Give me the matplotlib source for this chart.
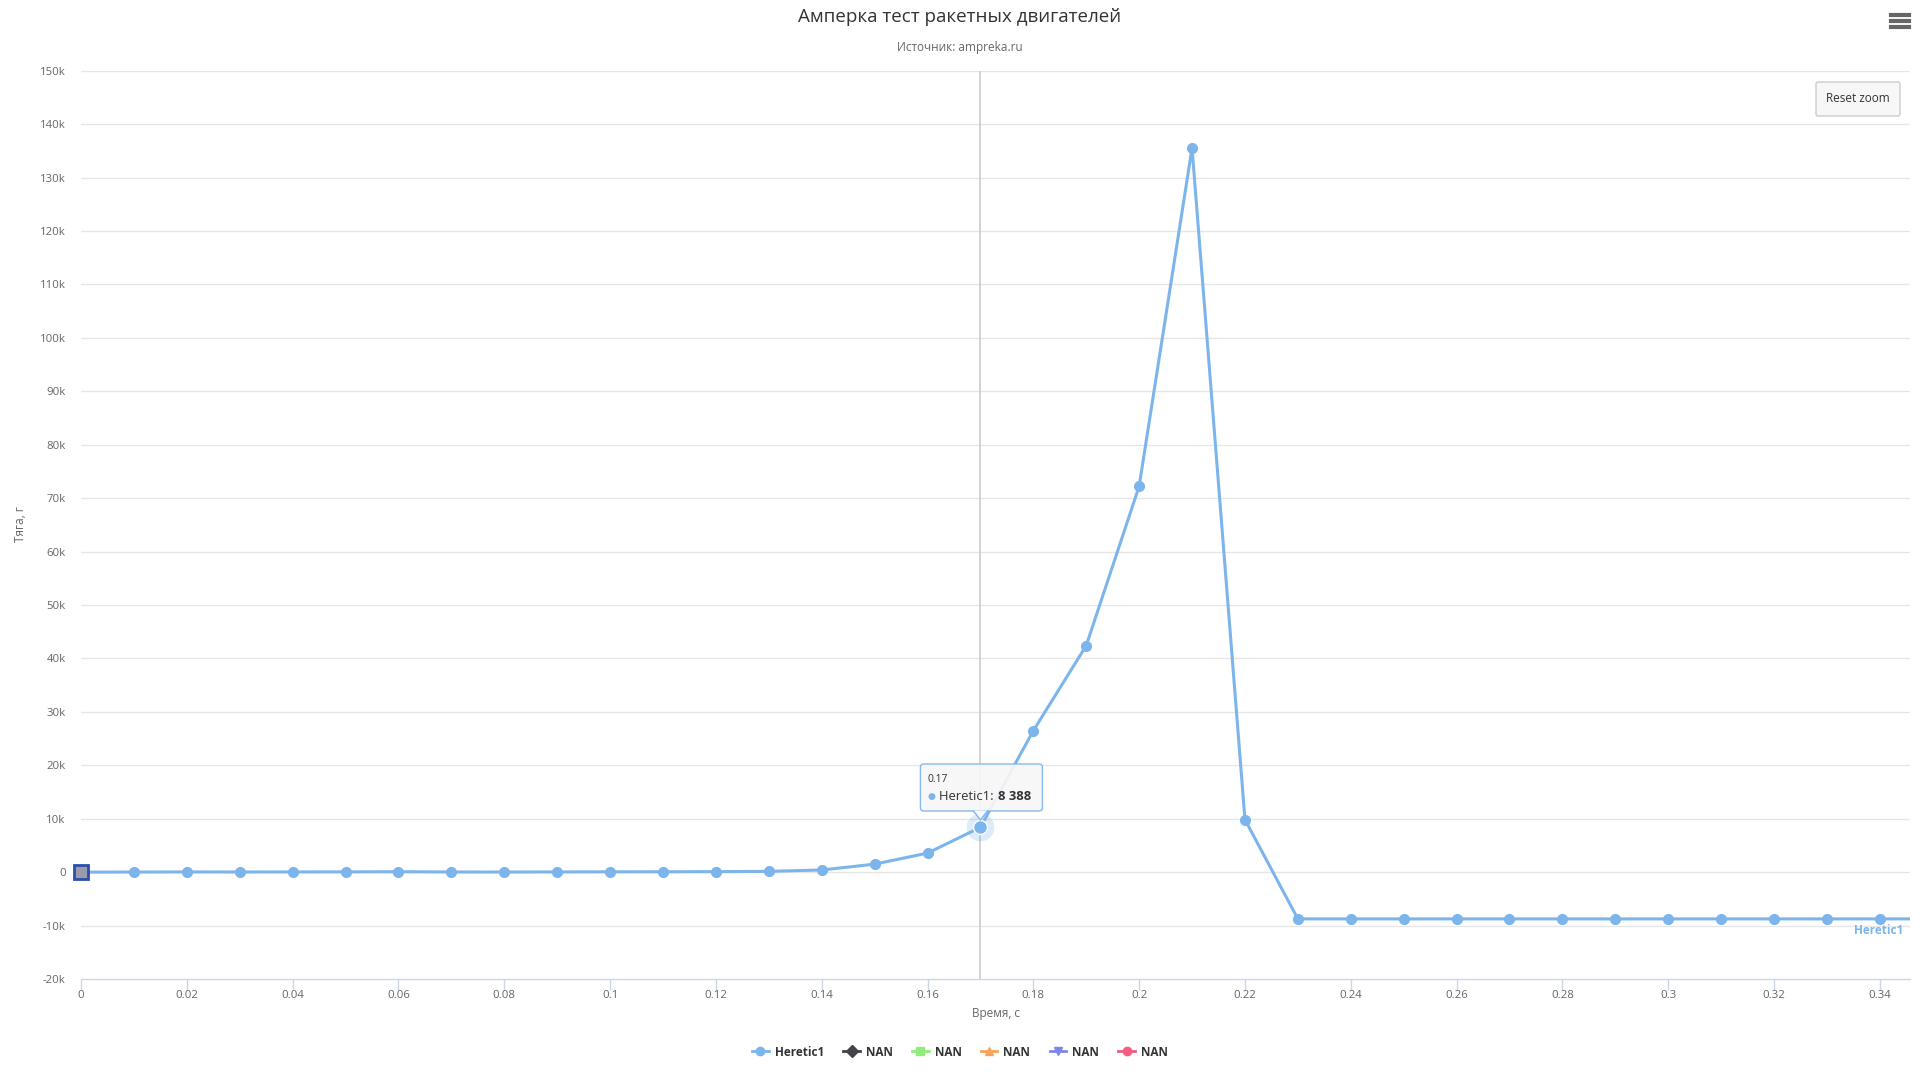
import numpy as np
import matplotlib.pyplot as plt
from matplotlib.lines import Line2D
from matplotlib.patches import FancyBboxPatch, Polygon

# ---------------------------------------------------------
# Данные
# ---------------------------------------------------------
time_s = [0.00, 0.01, 0.02, 0.03, 0.04, 0.05, 0.06, 0.07, 0.08, 0.09,
          0.10, 0.11, 0.12, 0.13, 0.14, 0.15, 0.16, 0.17, 0.18, 0.19,
          0.20, 0.21, 0.22, 0.23, 0.24, 0.25, 0.26, 0.27, 0.28, 0.29,
          0.30, 0.31, 0.32, 0.33, 0.34, 0.35]
thrust_g = [0, 20, 40, 30, 40, 50, 80, 30, 20, 40,
            60, 70, 90, 150, 400, 1500, 3560, 8388, 26480, 42400,
            72230, 135520, 9830, -8750, -8750, -8750, -8750, -8750, -8750, -8750,
            -8750, -8750, -8750, -8750, -8750, -8750]

legend_names = ["Heretic1", "NAN", "NAN", "NAN", "NAN", "NAN"]
legend_colors = ["#7cb5ec", "#434348", "#90ed7d", "#f7a35c", "#8085e9", "#f15c80"]
legend_markers = ["o", "D", "s", "^", "v", "o"]

y_ticks = [-20000, -10000, 0, 10000, 20000, 30000, 40000, 50000, 60000, 70000,
           80000, 90000, 100000, 110000, 120000, 130000, 140000, 150000]
x_ticks = [0, 0.02, 0.04, 0.06, 0.08, 0.1, 0.12, 0.14, 0.16, 0.18, 0.2,
           0.22, 0.24, 0.26, 0.28, 0.3, 0.32, 0.34]

hover_idx = 17
font = "Open Sans"
W, H = 1920, 1080

# ---------------------------------------------------------
# Plot
# ---------------------------------------------------------
fig = plt.figure(figsize=(19.2, 10.8), dpi=100)
fig.patch.set_facecolor("white")
ax = fig.add_axes([81 / W, 1 - 979 / H, (1910 - 81) / W, (979 - 70.7) / H])
ax.set_xlim(0, 0.3457)
ax.set_ylim(-20000, 150000)

for s in ["top", "right", "left"]:
    ax.spines[s].set_visible(False)
ax.spines["bottom"].set_color("#ccd6eb")
ax.spines["bottom"].set_linewidth(1)

for v in y_ticks[1:]:
    ax.axhline(v, color="#e6e6e6", lw=1, zorder=0)

ax.set_yticks(y_ticks)
ax.set_yticklabels(["0" if v == 0 else f"{v // 1000}k" for v in y_ticks])
ax.set_xticks(x_ticks)
ax.set_xticklabels([f"{t:g}" for t in x_ticks])
ax.tick_params(axis="y", length=0, pad=11, labelsize=8.2, labelcolor="#666666")
ax.tick_params(axis="x", length=8, width=1, color="#ccd6eb", pad=0,
               labelsize=8.2, labelcolor="#666666")
for lab in ax.get_xticklabels() + ax.get_yticklabels():
    lab.set_fontfamily(font)

ax.set_xlabel("Время, с", fontsize=8.5, color="#666666", fontfamily=font, labelpad=4)
fig.text(21 / W, 1 - 524 / H, "Тяга, г", rotation=90, ha="center", va="center",
         fontsize=8.5, color="#666666", fontfamily=font)

# crosshair
ax.axvline(time_s[hover_idx], color="#cccccc", lw=1.2, zorder=1)

# series
ax.plot(time_s, thrust_g, color="#7cb5ec", lw=2.2, marker="o", markersize=7,
        zorder=3, clip_on=True)
# hovered point with halo
ax.plot(time_s[hover_idx], thrust_g[hover_idx], "o", color="#7cb5ec", alpha=0.25,
        markersize=20, markeredgewidth=0, zorder=4)
ax.plot(time_s[hover_idx], thrust_g[hover_idx], "o", color="#7cb5ec",
        markersize=10, markeredgecolor="white", markeredgewidth=1, zorder=5)
# focused first point
ax.plot(time_s[0], thrust_g[0], "s", markerfacecolor="#9a9aaa",
        markeredgecolor="#2a4fa8", markeredgewidth=2, markersize=10,
        zorder=6, clip_on=False)

# series label at end
ax.text(0.3445, -10900, "Heretic1", color="#7cb5ec", fontsize=8.5,
        fontweight="bold", fontfamily=font, ha="right", va="center")

# titles
fig.text(0.5, 1 - 17 / H, "Амперка тест ракетных двигателей", ha="center",
         va="center", fontsize=13.5, color="#333333", fontfamily=font)
fig.text(0.5, 1 - 48 / H, "Источник: ampreka.ru", ha="center", va="center",
         fontsize=8.5, color="#666666", fontfamily=font)

# tooltip (pixel coords, origin bottom-left)
fig.canvas.draw()
px, py = ax.transData.transform((time_s[hover_idx], thrust_g[hover_idx]))
bx0, bx1 = px - 60, px + 62
by0, by1 = H - 811, H - 764
box = FancyBboxPatch((bx0, by0), bx1 - bx0, by1 - by0,
                     boxstyle="round,pad=0,rounding_size=3",
                     facecolor="#f7f7f7", edgecolor="#7cb5ec", lw=1,
                     alpha=0.92, transform=None, zorder=10)
fig.add_artist(box)
tri = Polygon([[px - 7, by0 + 0.5], [px + 7, by0 + 0.5], [px, by0 - 9]],
              closed=True, facecolor="#f7f7f7", edgecolor="none",
              transform=None, zorder=11)
fig.add_artist(tri)
fig.add_artist(Line2D([px - 7, px, px + 7], [by0, by0 - 9, by0], color="#7cb5ec",
                      lw=1, transform=None, zorder=12))
fig.text((bx0 + 7) / W, (H - 780) / H, "0.17", fontsize=7.4, color="#333333",
         fontfamily=font, va="center", ha="left", zorder=13)
fig.text((bx0 + 7) / W, (H - 796) / H, "●", fontsize=6.5, color="#7cb5ec",
         fontfamily="DejaVu Sans", va="center", ha="left", zorder=13)
t_name = fig.text((bx0 + 19) / W, (H - 796) / H, "Heretic1: ", fontsize=9.4,
                  color="#333333", fontfamily=font, va="center", ha="left", zorder=13)
fig.canvas.draw()
name_end = t_name.get_window_extent().x1
fig.text((name_end + 1) / W, (H - 796) / H, "8 388", fontsize=9.4, color="#333333",
         fontweight="bold", fontfamily=font, va="center", ha="left", zorder=13)

# reset zoom button
btn = FancyBboxPatch((1816, H - 116), 84, 34, boxstyle="round,pad=0,rounding_size=2",
                     facecolor="#f7f7f7", edgecolor="#cccccc", lw=1,
                     transform=None, zorder=10)
fig.add_artist(btn)
fig.text(1858 / W, (H - 98) / H, "Reset zoom", fontsize=8.5, color="#333333",
         fontfamily=font, ha="center", va="center", zorder=11)

# hamburger menu
for yy in [15, 21, 27]:
    fig.add_artist(Line2D([1891, 1909], [H - yy, H - yy], color="#666666",
                          lw=3, transform=None))

# legend
handles = [Line2D([0], [0], color=c, marker=m, lw=2, markersize=6)
           for c, m in zip(legend_colors, legend_markers)]
leg = fig.legend(handles, legend_names, loc="center", ncol=6,
                 bbox_to_anchor=(0.5, 1 - 1052 / H), frameon=False,
                 handlelength=1.4, handletextpad=0.5, columnspacing=1.65,
                 prop={"family": font, "size": 8.5, "weight": "bold"})
for t in leg.get_texts():
    t.set_color("#333333")

fig.savefig("out.png", dpi=100)
